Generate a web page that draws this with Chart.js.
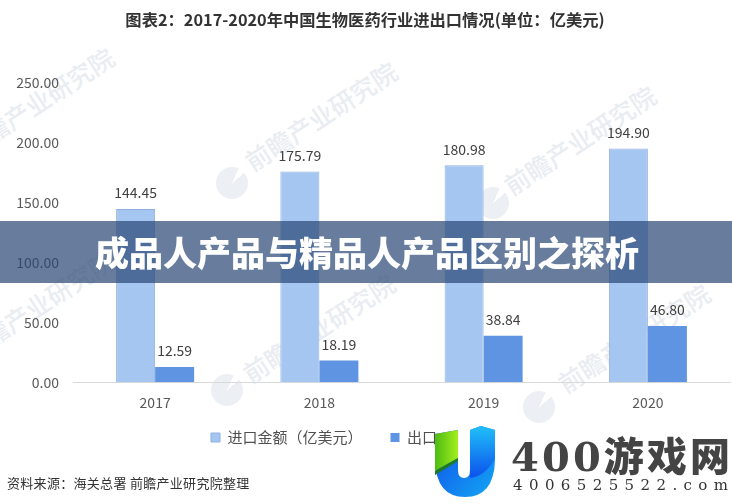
<!DOCTYPE html>
<html>
<head>
<meta charset="utf-8">
<script src="https://cdn.jsdelivr.net/npm/chart.js@4"></script>
<style>
  html, body { margin: 0; padding: 0; background: #fff; }
  #wrap { position: relative; width: 732px; height: 504px; overflow: hidden; font-family: "Noto Sans CJK SC", sans-serif; }
  #chart { position: absolute; left: 0; top: 0; }
  .mark { position: absolute; color: #e9edf2; font-size: 25px; line-height: 26px; font-weight: 500; white-space: nowrap; transform: translateY(-13px) rotate(-33deg); transform-origin: left center; }
  .blob { position: absolute; width: 32px; height: 32px; border-radius: 50%; background: conic-gradient(#eceff3 0 25deg, transparent 25deg 50deg, #eceff3 50deg); }
  #banner { position: absolute; left: 0; top: 221px; width: 637px; height: 62px; padding-left: 95px; background: rgba(40,70,115,.7); color: #fff; font-size: 34px; font-weight: 900; line-height: 62px; white-space: nowrap; }
  #source { position: absolute; left: 7px; top: 474px; color: #333; font-size: 13px; line-height: 18px; letter-spacing: .3px; white-space: nowrap; }
  #logo { position: absolute; left: 0; top: 0; }
</style>
</head>
<body>
<div id="wrap">
  <div class="mark" style="left:-36px;top:149px">前瞻产业研究院</div>
  <div class="mark" style="left:247px;top:163px">前瞻产业研究院</div>
  <div class="mark" style="left:506px;top:187px">前瞻产业研究院</div>
  <div class="mark" style="left:-36px;top:352px">前瞻产业研究院</div>
  <div class="mark" style="left:245px;top:375px">前瞻产业研究院</div>
  <div class="mark" style="left:560px;top:385px">前瞻产业研究院</div>
  <div class="blob" style="left:216px;top:167px"></div>
  <div class="blob" style="left:477px;top:187px"></div>
  <div class="blob" style="left:211px;top:374px"></div>
  <div class="blob" style="left:523px;top:391px"></div>
  <canvas id="chart" width="732" height="504"></canvas>
  <div id="banner">成品人产品与精品人产品区别之探析</div>
  <div id="source">资料来源：海关总署 前瞻产业研究院整理</div>
  <svg id="logo" width="732" height="504" viewBox="0 0 732 504">
    <defs>
      <linearGradient id="gBody" x1="0" y1="0" x2="1" y2="1">
        <stop offset="0" stop-color="#1248e8"/><stop offset="1" stop-color="#12a8f4"/>
      </linearGradient>
      <linearGradient id="gGreen" x1="0" y1="0" x2="1" y2="0">
        <stop offset="0" stop-color="#4cbc14"/><stop offset="1" stop-color="#a4ee1c"/>
      </linearGradient>
      <linearGradient id="gRight" x1="0" y1="0" x2="0" y2="1">
        <stop offset="0" stop-color="#20c0f8"/><stop offset="1" stop-color="#0c50ec"/>
      </linearGradient>
    </defs>
    <path d="M435 434 L458 430 L458 470 Q458 478 464 478 Q470 478 470 470 L470 430 L481 426 L495 430 L495 460 Q494 497 465 497 Q436 497 435 460 Z" fill="url(#gBody)"/>
    <path d="M435 434 L458 430 L458 458 L435 471 Z" fill="url(#gGreen)"/>
    <path d="M435 471 L458 458 L458 461 L435 475 Z" fill="#1f7a22"/>
    <path d="M470 430 L481 426 L495 430 L495 458 Q486 476 470 478 Z" fill="url(#gRight)"/>
    <text x="511" y="471" textLength="219" lengthAdjust="spacing" font-family="DejaVu Serif, Noto Sans CJK SC" font-size="40" font-weight="900" fill="#444">400游戏网</text>
    <text x="513" y="490" textLength="215" lengthAdjust="spacing" font-family="DejaVu Serif" font-size="15" fill="#333">4006525522.com</text>
  </svg>
</div>
<script>
const years = ['2017', '2018', '2019', '2020'];
const importLabel = '进口金额（亿美元）';
const exportLabel = '出口';
const importValues = [144.45, 175.79, 180.98, 194.90];
const exportValues = [12.59, 18.19, 38.84, 46.80];
const yTicks = [0, 50, 100, 150, 200, 250];
const chartTitle = '图表2：2017-2020年中国生物医药行业进出口情况(单位：亿美元)';

const cjk = '"Noto Sans CJK SC", sans-serif';

// value labels above the bars
const barLabels = {
  id: 'barLabels',
  afterDatasetsDraw(chart) {
    const ctx = chart.ctx;
    ctx.save();
    ctx.font = '14px ' + cjk;
    ctx.fillStyle = '#404040';
    ctx.textAlign = 'center';
    ctx.textBaseline = 'bottom';
    chart.data.datasets.forEach((ds, i) => {
      chart.getDatasetMeta(i).data.forEach((bar, j) => {
        ctx.fillText(ds.data[j].toFixed(2), bar.x, bar.y - 9);
      });
    });
    ctx.restore();
  }
};

// legend is not centred in the original, move it over
const moveLegend = {
  id: 'moveLegend',
  afterLayout(chart) {
    const l = chart.legend;
    l.left -= 41; l.right -= 41;
    l.top = 402; l.bottom = 452;
  }
};

new Chart(document.getElementById('chart'), {
  type: 'bar',
  data: {
    labels: years,
    datasets: [
      { label: importLabel, data: importValues, backgroundColor: '#a6c6f2', borderColor: '#8fb0de', borderWidth: 1 },
      { label: exportLabel, data: exportValues, backgroundColor: '#5e94e2', borderWidth: 0 }
    ]
  },
  options: {
    responsive: false,
    animation: false,
    layout: { padding: { top: 0, right: 2, bottom: 28, left: 0 } },
    datasets: { bar: { categoryPercentage: 0.475, barPercentage: 1 } },
    plugins: {
      title: {
        display: true,
        text: chartTitle,
        color: '#333',
        font: { family: cjk, size: 16.3, weight: 'bold' },
        padding: { top: 10, bottom: 53 }
      },
      legend: {
        position: 'bottom',
        labels: {
          boxWidth: 9, boxHeight: 9, padding: 28, color: '#505050',
          font: { family: cjk, size: 15 }
        }
      },
      tooltip: { enabled: false }
    },
    scales: {
      x: {
        grid: { display: false, drawTicks: false },
        border: { color: '#d9d9d9' },
        ticks: { color: '#595959', font: { family: cjk, size: 14 }, padding: 12 }
      },
      y: {
        min: 0,
        max: 250,
        afterBuildTicks(axis) { axis.ticks = yTicks.map(v => ({ value: v })); },
        afterFit(axis) { axis.width = 73; },
        grid: { display: false, drawTicks: false },
        border: { display: false },
        ticks: {
          color: '#595959',
          font: { family: cjk, size: 14 },
          padding: 14,
          callback: v => v.toFixed(2)
        }
      }
    }
  },
  plugins: [barLabels, moveLegend]
});
</script>
</body>
</html>
